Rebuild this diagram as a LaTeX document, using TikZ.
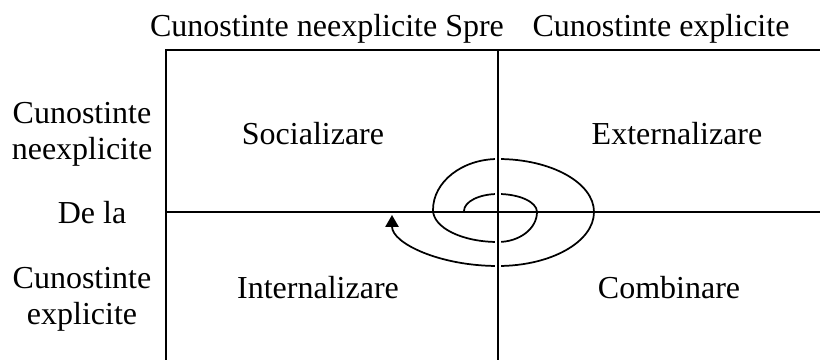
\documentclass[tikz,border=0pt]{standalone}
\usepackage{fontspec}
\setmainfont{Liberation Serif}
\usetikzlibrary{arrows.meta,positioning}

\begin{document}
\begin{tikzpicture}[x=0.75pt,y=0.75pt,line width=1.3pt,
every node/.style={font=\fontsize{24}{27}\selectfont,inner sep=0pt,align=center}]
\useasboundingbox (0,0) rectangle (820,360);
% corners of the quadrant grid
\coordinate (TL) at (166,310);
\coordinate (TM) at (498,310);
\coordinate (TR) at (820,310);
\coordinate (ML) at (166,148);
\coordinate (MR) at (820,148);
\coordinate (BL) at (166,0);
\coordinate (BM) at (498,0);
% labels
\node (spre) at (327,331) {Cunostinte neexplicite Spre};
\node (sprex) at (661,331) {Cunostinte explicite};
\node (neexpl) at (82,226) {Cunostinte\\neexplicite};
\node (dela) at (92,147) {De la};
\node (expl) at (82,61) {Cunostinte\\explicite};
\node (soc) at (313,226) {Socializare};
\node (ext) at (677,226) {Externalizare};
\node (int) at (318,72) {Internalizare};
\node (comb) at (669,72) {Combinare};
% spiral
\draw[-{Triangle[length=9pt,width=10pt]}] (464,149)
  arc[start angle=180,end angle=90,x radius=34,y radius=17]
  arc[start angle=90,end angle=0,x radius=39,y radius=18]
  arc[start angle=0,end angle=-90,x radius=39,y radius=30]
  arc[start angle=-90,end angle=-180,x radius=65,y radius=32]
  arc[start angle=180,end angle=90,x radius=65,y radius=51]
  arc[start angle=90,end angle=0,x radius=96,y radius=53]
  arc[start angle=0,end angle=-90,x radius=96,y radius=54]
  arc[start angle=-90,end angle=-180,x radius=106,y radius=51];
% grid
\draw[preaction={draw=white,line width=5pt}] (TM)--(BM);
\draw (BL)--(TL)--(TR);
\draw (ML)--(MR);
\end{tikzpicture}
\end{document}
